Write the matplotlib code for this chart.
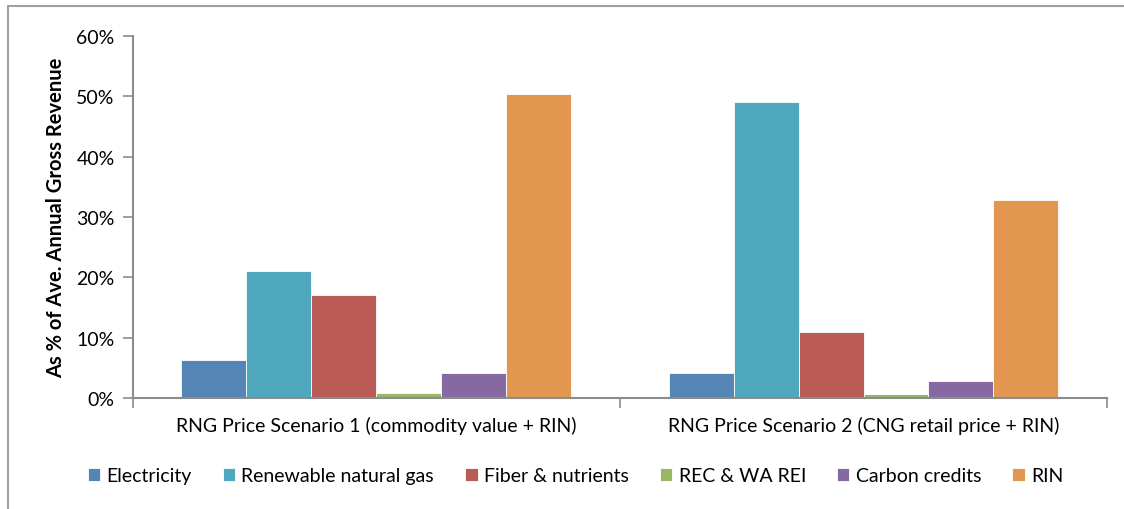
import matplotlib.pyplot as plt
import numpy as np
from matplotlib.lines import Line2D
from matplotlib.ticker import PercentFormatter

plt.rcParams['font.family'] = ['Lato', 'DejaVu Sans']

scenarios = ['RNG Price Scenario 1 (commodity value + RIN)',
             'RNG Price Scenario 2 (CNG retail price + RIN)']
series = ['Electricity', 'Renewable natural gas', 'Fiber & nutrients',
          'REC & WA REI', 'Carbon credits', 'RIN']
# share of average annual gross revenue, %
values = [
    [6.3, 4.1],    # Electricity
    [21.0, 49.0],  # Renewable natural gas
    [17.1, 11.0],  # Fiber & nutrients
    [0.9, 0.6],    # REC & WA REI
    [4.1, 2.8],    # Carbon credits
    [50.4, 32.8],  # RIN
]
colors = ['#5585b5', '#4fa8bd', '#ba5b55', '#9ab565', '#8669a2', '#e39650']

fig = plt.figure(figsize=(11.24, 5.1), dpi=100)
# chart frame: only top and left edges fall inside the crop
fig.lines.append(Line2D([0.0075, 0.0075, 1.0], [0.0, 0.986, 0.986],
                        transform=fig.transFigure, color='#a0a0a0', linewidth=1.5))
ax = fig.add_axes([0.118, 0.2176, 0.867, 0.7098])

n = len(series)
group_w = 0.8
bar_w = group_w / n
x = np.arange(len(scenarios))
for i, (name, vals) in enumerate(zip(series, values)):
    offs = -group_w / 2 + bar_w * (i + 0.5)
    ax.bar(x + offs, vals, width=bar_w, color=colors[i], label=name,
           edgecolor='white', linewidth=0.6)

ax.set_xlim(-0.5, len(scenarios) - 0.5)
ax.set_ylim(0, 60)
ax.set_yticks(np.arange(0, 61, 10))
ax.yaxis.set_major_formatter(PercentFormatter(decimals=0))
ax.set_xticks(x)
ax.set_xticklabels(scenarios, fontsize=14)
ax.set_xticks(np.arange(-0.5, len(scenarios), 1), minor=True)
ax.tick_params(axis='x', which='major', length=0, pad=13)
ax.tick_params(axis='x', which='minor', length=7, color='#8c8c8c', width=1.2)
ax.tick_params(axis='y', labelsize=14, length=7, pad=6, color='#8c8c8c', width=1.2)
ax.set_ylabel('As % of Ave. Annual Gross Revenue', fontsize=14.5, fontweight='bold')
ax.yaxis.set_label_coords(-0.068, 0.5)

for s in ['top', 'right']:
    ax.spines[s].set_visible(False)
for s in ['left', 'bottom']:
    ax.spines[s].set_color('#8c8c8c')
    ax.spines[s].set_linewidth(1.5)

fig.legend(loc='center', bbox_to_anchor=(0.512, 0.065), ncol=n, frameon=False,
           fontsize=14, handlelength=0.64, handleheight=0.64, handletextpad=0.32,
           columnspacing=1.6)

fig.savefig('out.png', dpi=100)
